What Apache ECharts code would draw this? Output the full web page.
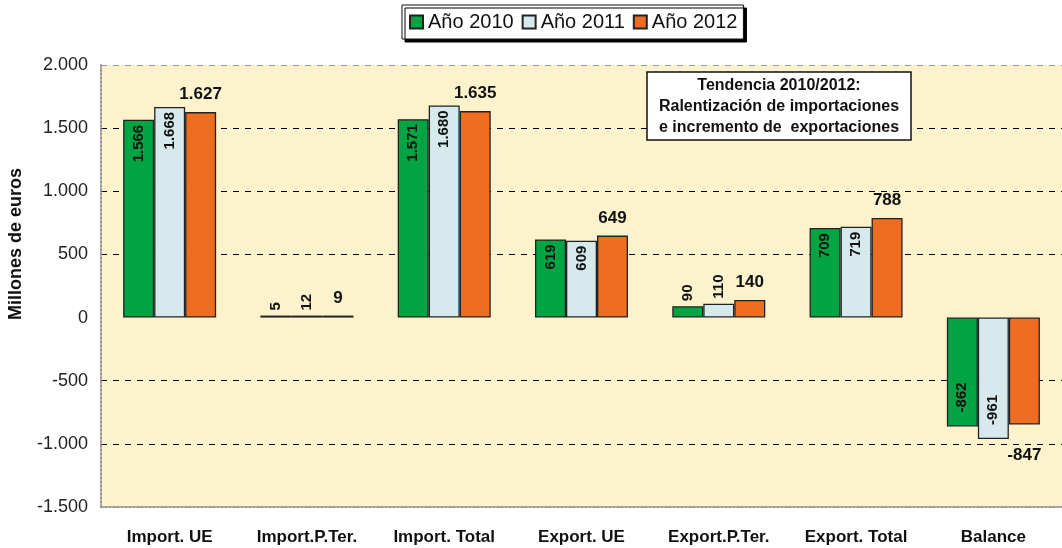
<!DOCTYPE html>
<html>
<head>
<meta charset="utf-8">
<script src="https://cdn.jsdelivr.net/npm/echarts@6/dist/echarts.min.js"></script>
<style>
html, body { margin: 0; padding: 0; background: #fff; }
#plot { width: 1062px; height: 548px; }
</style>
</head>
<body>
<div id="plot"></div>
<script>
const categories = ['Import. UE', 'Import.P.Ter.', 'Import. Total', 'Export. UE', 'Export.P.Ter.', 'Export. Total', 'Balance'];
const y2010 = [1566, 5, 1571, 619, 90, 709, -862];
const y2011 = [1668, 12, 1680, 609, 110, 719, -961];
const y2012 = [1627, 9, 1635, 649, 140, 788, -847];
const seriesNames = ['Año 2010', 'Año 2011', 'Año 2012'];
const colors = ['#00A443', '#D6E9EC', '#EE6D21'];

const FONT = '"Liberation Sans", Arial, sans-serif';
const BG = '#FCF2CB';

function fmt(v) {
    const s = String(Math.abs(v)).replace(/\B(?=(\d{3})+(?!\d))/g, '.');
    return (v < 0 ? '-' : '') + s;
}

// 2010 / 2011: vertical labels, inside the bar when it is tall enough
function rotatedItem(v) {
    let label;
    if (v < -300) {
        label = { position: 'insideBottom', align: 'left', distance: 14 };
    } else if (v > 300) {
        label = { position: 'insideTop', align: 'right', distance: 5 };
    } else {
        label = { position: 'top', align: 'left', distance: 5 };
    }
    return { value: v, label: label };
}

// 2012: horizontal labels outside the bar
function outsideItem(v) {
    return { value: v, label: { position: v < 0 ? 'bottom' : 'top', distance: v < 0 ? 22 : 9 } };
}

const chart = echarts.init(document.getElementById('plot'));

const series = [y2010, y2011, y2012].map(function (vals, i) {
    const isLast = i === 2;
    return {
        name: seriesNames[i],
        type: 'bar',
        barWidth: 31,
        barGap: '0%',
        barMinHeight: 2,
        data: vals.map(isLast ? outsideItem : rotatedItem),
        itemStyle: { color: colors[i], borderColor: '#222', borderWidth: 1.3 },
        label: isLast ? {
            show: true,
            fontFamily: FONT,
            fontWeight: 'bold',
            fontSize: 17,
            color: '#111',
            formatter: function (p) { return fmt(p.value); }
        } : {
            show: true,
            rotate: 90,
            verticalAlign: 'middle',
            fontFamily: FONT,
            fontWeight: 'bold',
            fontSize: 15,
            color: '#111',
            formatter: function (p) { return fmt(p.value); }
        }
    };
});

chart.setOption({
    animation: false,
    textStyle: { fontFamily: FONT },
    title: {
        text: 'Tendencia 2010/2012:\nRalentización de importaciones\ne incremento de  exportaciones',
        left: 767,
        top: 72,
        textAlign: 'center',
        padding: [3, 12, 2, 12],
        backgroundColor: '#fff',
        borderColor: '#111',
        borderWidth: 1.5,
        textStyle: {
            fontFamily: FONT,
            fontSize: 16,
            fontWeight: 'bold',
            color: '#111',
            lineHeight: 21
        }
    },
    legend: {
        top: 5,
        left: 402,
        selectedMode: false,
        icon: 'rect',
        itemWidth: 13,
        itemHeight: 13,
        itemGap: 8,
        padding: [7, 6, 7, 7],
        backgroundColor: '#fff',
        borderColor: '#111',
        borderWidth: 1,
        shadowColor: '#000',
        shadowBlur: 0,
        shadowOffsetX: 3,
        shadowOffsetY: 3,
        textStyle: { fontFamily: FONT, fontSize: 20, color: '#111' }
    },
    grid: {
        left: 101,
        right: 0,
        top: 65,
        bottom: 41,
        outerBoundsMode: 'none',
        containLabel: false,
        show: true,
        backgroundColor: BG,
        borderWidth: 0
    },
    xAxis: {
        type: 'category',
        data: categories,
        axisLine: { onZero: false, lineStyle: { color: '#999', width: 2, type: 'dotted' } },
        axisTick: { show: false },
        axisLabel: { fontFamily: FONT, fontSize: 17, fontWeight: 'bold', color: '#111', margin: 22 }
    },
    yAxis: {
        type: 'value',
        min: -1500,
        max: 2000,
        interval: 500,
        name: 'Millones de euros',
        nameLocation: 'middle',
        nameGap: 76,
        nameTextStyle: { fontFamily: FONT, fontSize: 18, fontWeight: 'bold', color: '#111', padding: [0, 0, 0, 84] },
        axisLine: { show: true, lineStyle: { color: '#999', width: 2, type: 'dotted' } },
        axisTick: { show: false },
        axisLabel: {
            fontFamily: FONT, fontSize: 18, color: '#222', margin: 13,
            formatter: function (v) { return fmt(v); }
        },
        splitLine: {
            show: true,
            lineStyle: {
                color: ['#999', '#000', '#000', BG, '#000', '#000', '#000', '#999'],
                type: [6, 6],
                width: 1
            }
        }
    },
    series: series
});
</script>
</body>
</html>
